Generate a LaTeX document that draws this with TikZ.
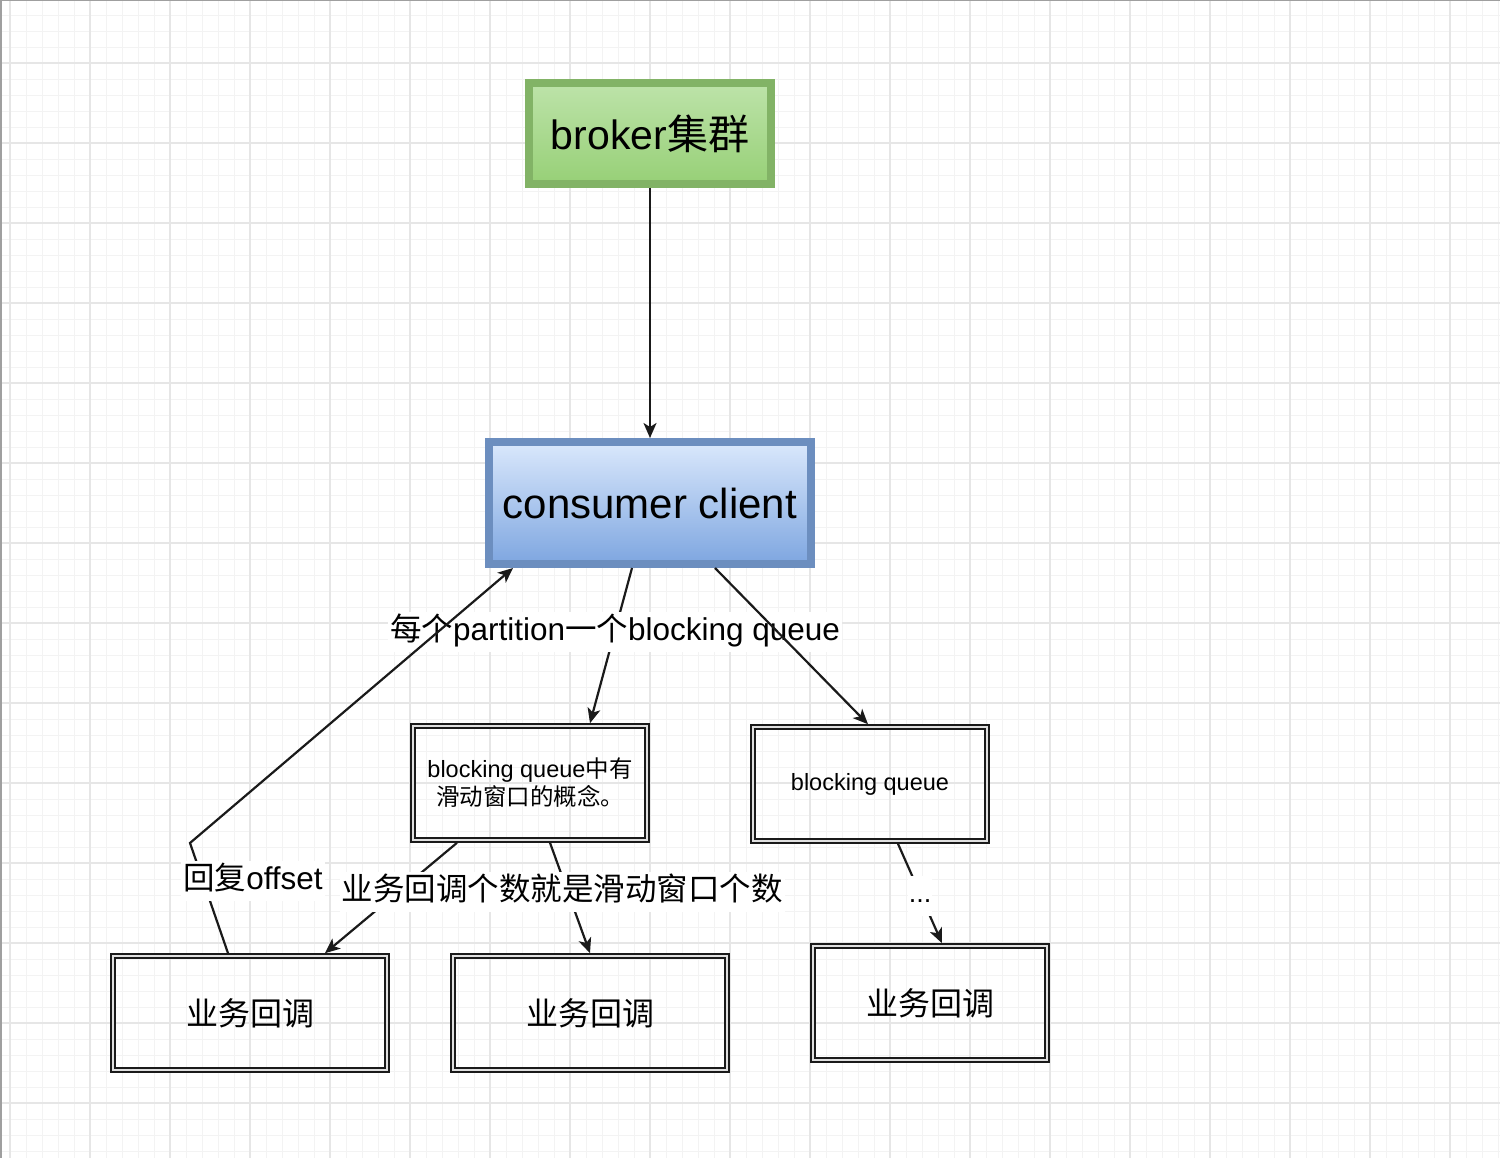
\documentclass[tikz,border=0pt]{standalone}
\usepackage{fontspec}
\setmainfont{Liberation Sans}
\newfontfamily\cjk{Noto Sans CJK SC}
\usetikzlibrary{arrows.meta}
\definecolor{gmaj}{HTML}{E6E6E6}
\definecolor{gmin}{HTML}{F3F3F3}
\definecolor{greentop}{HTML}{BDE3A9}
\definecolor{greenbot}{HTML}{97D077}
\definecolor{greenline}{HTML}{82B366}
\definecolor{bluetop}{HTML}{DAE8FC}
\definecolor{bluebot}{HTML}{7EA6E0}
\definecolor{blueline}{HTML}{6C8EBF}
\definecolor{ink}{HTML}{1A1A1A}
\begin{document}
\begin{tikzpicture}[x=1pt,y=-1pt,
  edge/.style={draw=ink, line width=2.2pt},
  arr/.style={edge, -{Stealth[length=15pt,width=13pt,inset=4pt]}},
  dbox/.style={draw=ink, line width=1.8pt, double=white!88!black, double distance=2pt,
    inner sep=0pt, outer sep=2.8pt, align=center},
  cbox/.style={line width=8pt, outer sep=4pt, inner sep=0pt, align=center},
  lbl/.style={fill=white, inner xsep=2pt, inner ysep=4.5pt, text height=24pt, text depth=7pt,
    font=\fontsize{31.5}{36}\selectfont},
]
\useasboundingbox (0,0) rectangle (1500,1158);
\fill[white] (0,0) rectangle (1500,1158);
% grid
\foreach \x in {10,26,...,1500} \draw[gmin, line width=0.9pt] (\x,0) -- (\x,1158);
\foreach \y in {15,31,...,1158} \draw[gmin, line width=0.9pt] (0,\y) -- (1500,\y);
\foreach \x in {10,90,...,1500} \draw[gmaj, line width=1.1pt] (\x,0) -- (\x,1158);
\foreach \y in {63,143,...,1158} \draw[gmaj, line width=1.1pt] (0,\y) -- (1500,\y);
\draw[gray!75, line width=1.5pt] (0.75,1158) -- (0.75,0.75) -- (1500,0.75);

% boxes
\node[cbox, draw=greenline, top color=greentop, bottom color=greenbot,
  minimum width=242pt, minimum height=101pt, font=\fontsize{41}{48}\selectfont]
  (broker) at (650,133.5) {broker{\cjk 集群}};
\node[cbox, draw=blueline, top color=bluetop, bottom color=bluebot,
  minimum width=322pt, minimum height=122pt, font=\fontsize{42}{48}\selectfont]
  (consumer) at (650,503) {consumer client};
\node[dbox, minimum width=234pt, minimum height=114pt, font=\fontsize{23.5}{28}\selectfont]
  (bq1) at (530,783) {blocking queue{\cjk 中有}\\{\cjk 滑动窗口的概念。}};
\node[dbox, minimum width=234pt, minimum height=114pt, font=\fontsize{23.5}{28}\selectfont]
  (bq2) at (870,784) {blocking queue};
\node[dbox, minimum width=274pt, minimum height=114pt, font=\fontsize{32}{38}\selectfont\cjk]
  (cb1) at (250,1013) {业务回调};
\node[dbox, minimum width=274pt, minimum height=114pt, font=\fontsize{32}{38}\selectfont\cjk]
  (cb2) at (590,1013) {业务回调};
\node[dbox, minimum width=234pt, minimum height=114pt, font=\fontsize{32}{38}\selectfont\cjk]
  (cb3) at (930,1003) {业务回调};

% connectors
\draw[arr] (broker) -- (consumer);
\draw[arr] ([xshift=-18pt]consumer.south) -- ([xshift=60pt]bq1.north);
\node[lbl] (l1) at (615,632) {{\cjk 每个}partition{\cjk 一个}blocking queue};
\draw[arr] ([xshift=65pt]consumer.south) -- ([xshift=-2pt]bq2.north);
\coordinate (wp) at (190,843);
\draw[arr] ([xshift=-22pt]cb1.north) -- (wp) -- ([xshift=28pt]consumer.south west);
\node[lbl] (l3) at (253,881) {{\cjk 回复}offset};
\draw[arr] ([xshift=-73pt]bq1.south) -- ([xshift=75pt]cb1.north);
\draw[arr] ([xshift=20pt]bq1.south) -- (cb2.north);
\node[lbl] (l2) at (562,892) {\cjk 业务回调个数就是滑动窗口个数};
\draw[arr] ([xshift=28pt]bq2.south) -- ([xshift=12pt]cb3.north);
\node[fill=white, inner xsep=1pt, inner ysep=8pt, text height=18pt, text depth=6pt,
  font=\fontsize{27}{30}\selectfont] (l4) at (920,896) {...};
\end{tikzpicture}
\end{document}
